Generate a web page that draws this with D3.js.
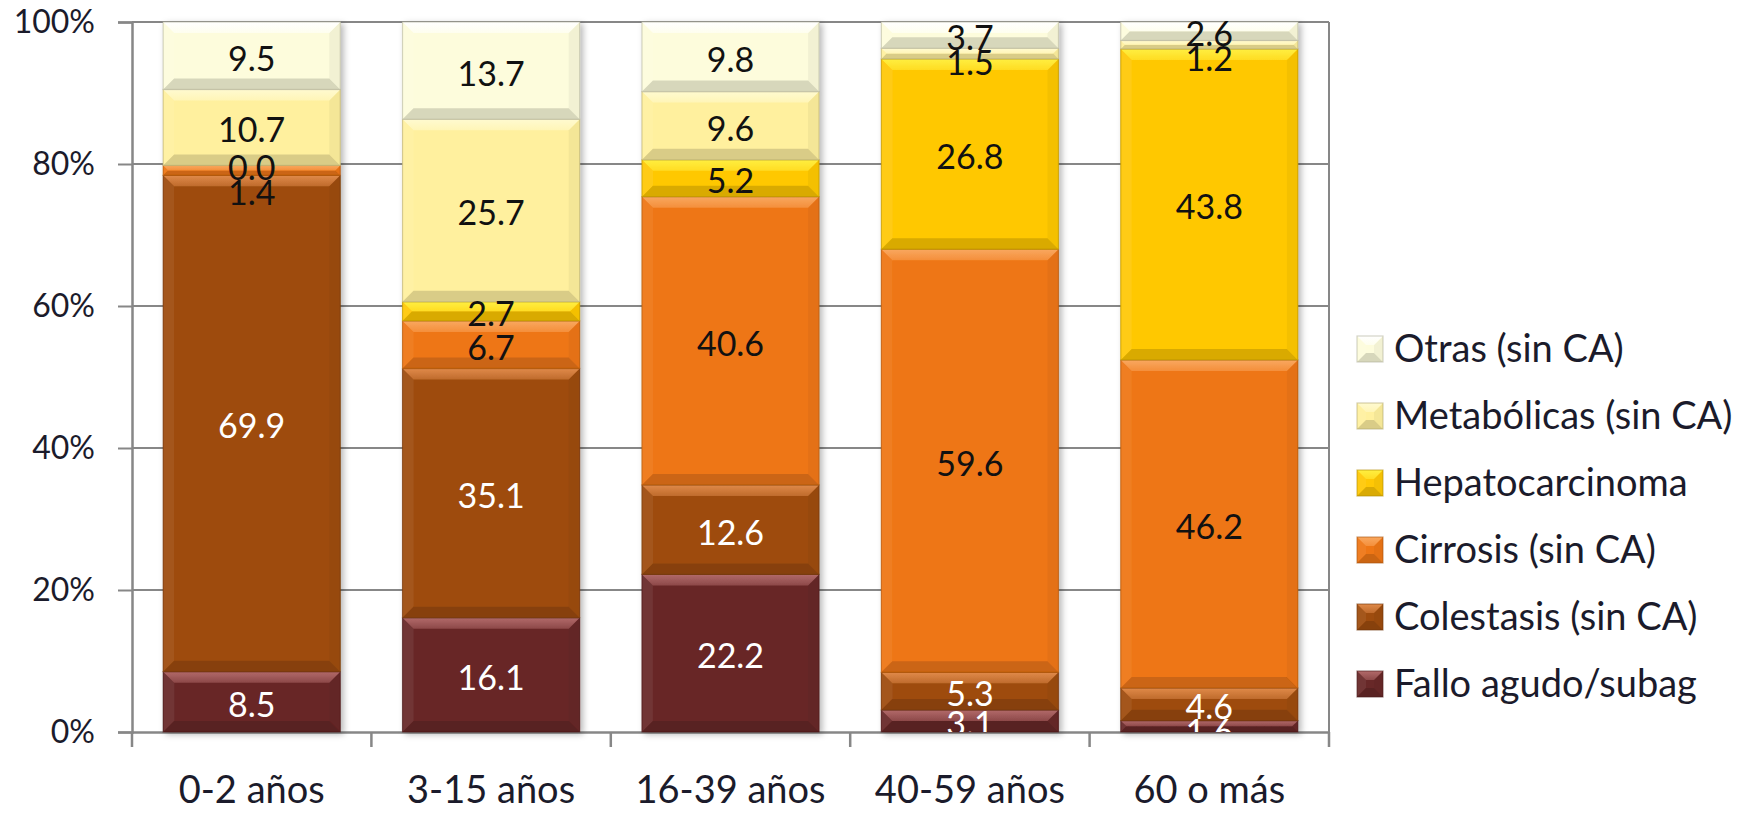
<!DOCTYPE html>
<html>
<head>
<meta charset="utf-8">
<script src="https://cdn.jsdelivr.net/npm/d3@7"></script>
<style>
  html, body { margin: 0; padding: 0; background: #ffffff; }
  svg { display: block; }
  text { font-family: Lato, "Open Sans", sans-serif; }
</style>
</head>
<body>
<svg id="chart" width="1753" height="814"></svg>
<script>
// Age groups and causes (percent of each age group, stacked bottom to top)
const categories = ["0-2 años", "3-15 años", "16-39 años", "40-59 años", "60 o más"];
const seriesNames = ["Fallo agudo/subag", "Colestasis (sin CA)", "Cirrosis (sin CA)",
                     "Hepatocarcinoma", "Metabólicas (sin CA)", "Otras (sin CA)"];
const fallo           = [8.5, 16.1, 22.2, 3.1, 1.6];
const colestasis      = [69.9, 35.1, 12.6, 5.3, 4.6];
const cirrosis        = [1.4, 6.7, 40.6, 59.6, 46.2];
const hepatocarcinoma = [0.0, 2.7, 5.2, 26.8, 43.8];
const metabolicas     = [10.7, 25.7, 9.6, 1.5, 1.2];
const otras           = [9.5, 13.7, 9.8, 3.7, 2.6];
const yTicks = [0, 20, 40, 60, 80, 100];

const seriesValues = [fallo, colestasis, cirrosis, hepatocarcinoma, metabolicas, otras];
const seriesColors = ["#682828", "#9e4c0e", "#ee7615", "#ffc805", "#fff09e", "#fdfcdc"];
const highlight    = ["#b26a6a", "#e08a4a", "#f9a860", "#ffef40", "#fffad0", "#ffffff"];
const labelColors  = ["#ffffff", "#ffffff", "#111111", "#111111", "#111111", "#111111"];

const rows = categories.map((c, i) => {
  const r = { cat: c };
  seriesNames.forEach((s, k) => { r[s] = seriesValues[k][i]; });
  return r;
});
const stacked = d3.stack().keys(seriesNames)(rows);

const svg = d3.select("#chart");
const plot = { left: 132, right: 1329, top: 22, bottom: 732 };
const gridColor = "#878787";
const textColor = "#1b1b2b";

const x = d3.scaleBand().domain(categories)
  .range([plot.left, plot.right]).paddingInner(0.26).paddingOuter(0.13);
const y = d3.scaleLinear().domain([0, 100]).range([plot.bottom, plot.top]);

const defs = svg.append("defs");
const shadow = defs.append("filter").attr("id", "shadow")
  .attr("x", "-10%").attr("y", "-10%").attr("width", "130%").attr("height", "130%");
shadow.append("feDropShadow").attr("dx", 3).attr("dy", 2)
  .attr("stdDeviation", 3).attr("flood-color", "#000").attr("flood-opacity", 0.28);
defs.append("clipPath").attr("id", "plotClip").append("rect")
  .attr("x", plot.left).attr("y", 0).attr("width", plot.right - plot.left)
  .attr("height", plot.bottom);

// Top facet gradients, one per series
seriesColors.forEach((c, k) => {
  const lg = defs.append("linearGradient").attr("id", "top" + k)
    .attr("x1", 0).attr("y1", 0).attr("x2", 0).attr("y2", 1);
  lg.append("stop").attr("offset", "0%").attr("stop-color", highlight[k]);
  lg.append("stop").attr("offset", "100%").attr("stop-color", d3.interpolateRgb(highlight[k], c)(0.5));
});

// Gridlines and right border
svg.append("g").selectAll("line").data(yTicks.filter(t => t > 0)).join("line")
  .attr("x1", plot.left).attr("x2", plot.right)
  .attr("y1", d => y(d)).attr("y2", d => y(d))
  .attr("stroke", gridColor).attr("stroke-width", 2);
svg.append("line").attr("x1", plot.right).attr("x2", plot.right)
  .attr("y1", y(100)).attr("y2", y(0)).attr("stroke", gridColor).attr("stroke-width", 2);

// Y axis
const yAxis = d3.axisLeft(y).tickValues(yTicks).tickFormat(d => d + "%")
  .tickSize(14).tickPadding(23);
const gy = svg.append("g").attr("transform", `translate(${plot.left},0)`).call(yAxis);
gy.select(".domain").attr("stroke", gridColor).attr("stroke-width", 2.5);
gy.selectAll(".tick line").attr("stroke", gridColor).attr("stroke-width", 2);
gy.selectAll(".tick text").attr("font-size", 32).attr("fill", textColor)
  .attr("font-family", "Lato, sans-serif");

// X axis with ticks between categories
const xAxis = d3.axisBottom(x).tickSize(0).tickPadding(44);
const gx = svg.append("g").attr("transform", `translate(0,${plot.bottom})`).call(xAxis);
gx.select(".domain").attr("stroke", gridColor).attr("stroke-width", 2.5);
gx.selectAll(".tick text").attr("font-size", 38).attr("fill", textColor)
  .attr("font-family", "Lato, sans-serif");
const step = x.step();
const boundaries = d3.range(categories.length + 1).map(i => plot.left + i * step);
gx.selectAll(".sep").data(boundaries).join("line").attr("class", "sep")
  .attr("x1", d => d).attr("x2", d => d).attr("y1", 0).attr("y2", 15)
  .attr("stroke", gridColor).attr("stroke-width", 2.5);

// Bevelled box
function bevel(g, bx, by, w, h, k, depth) {
  const color = seriesColors[k];
  const c = d3.color(color);
  const b = Math.max(0, Math.min(depth, h / 2, w / 2));
  g.append("rect").attr("x", bx).attr("y", by).attr("width", w).attr("height", h)
    .attr("fill", color);
  const poly = (pts, fill) => g.append("polygon")
    .attr("points", pts.map(p => p.join(",")).join(" ")).attr("fill", fill);
  if (b > 0) {
    poly([[bx, by], [bx + b, by + b], [bx + b, by + h - b], [bx, by + h]],
      d3.interpolateRgb(color, "#ffffff")(0.06));
    poly([[bx + w, by], [bx + w - b, by + b], [bx + w - b, by + h - b], [bx + w, by + h]],
      c.darker(0.12).formatHex());
    poly([[bx, by + h], [bx + w, by + h], [bx + w - b, by + h - b], [bx + b, by + h - b]],
      c.darker(0.45).formatHex());
    poly([[bx, by], [bx + w, by], [bx + w - b, by + b], [bx + b, by + b]], `url(#top${k})`);
  }
  g.append("rect").attr("x", bx).attr("y", by).attr("width", w).attr("height", h)
    .attr("fill", "none").attr("stroke", c.darker(1).formatHex())
    .attr("stroke-width", 1.2).attr("stroke-opacity", 0.55);
}

// Bars
const barsG = svg.append("g");
categories.forEach((cat, i) => {
  const g = barsG.append("g").attr("filter", "url(#shadow)");
  stacked.forEach((layer, k) => {
    const d = layer[i];
    const y0 = y(d[0]), y1 = y(d[1]);
    const h = y0 - y1;
    if (h <= 0.01) return;
    bevel(g, x(cat), y1, x.bandwidth(), h, k, 11);
  });
});

// Value labels, centred in each segment; labels that would collide are
// nudged downwards, and anything below the baseline is clipped.
const labelsG = svg.append("g").attr("clip-path", "url(#plotClip)");
const minGap = 25;
categories.forEach((cat, i) => {
  const items = stacked.map((layer, k) => ({
    k, v: seriesValues[k][i], y: y((layer[i][0] + layer[i][1]) / 2) + 3
  })).reverse();
  let prev = -Infinity;
  items.forEach(it => {
    it.y = Math.max(it.y, prev + minGap);
    prev = it.y;
  });
  items.forEach(it => {
    labelsG.append("text")
      .attr("x", x(cat) + x.bandwidth() / 2)
      .attr("y", it.y)
      .attr("dy", "0.35em")
      .attr("text-anchor", "middle")
      .attr("font-size", 34)
      .attr("fill", labelColors[it.k])
      .text(it.v.toFixed(1));
  });
});

// Legend (top entry is the top of the stack)
const legend = svg.append("g").attr("transform", "translate(1357,0)");
const legendY = [684, 617, 550, 483, 416, 349];
seriesNames.forEach((s, k) => {
  const g = legend.append("g");
  bevel(g, 0, legendY[k] - 13, 26, 26, k, 9);
  g.append("text").attr("x", 37).attr("y", legendY[k]).attr("dy", "0.35em")
    .attr("font-size", 38).attr("fill", textColor).text(s);
});
</script>
</body>
</html>
